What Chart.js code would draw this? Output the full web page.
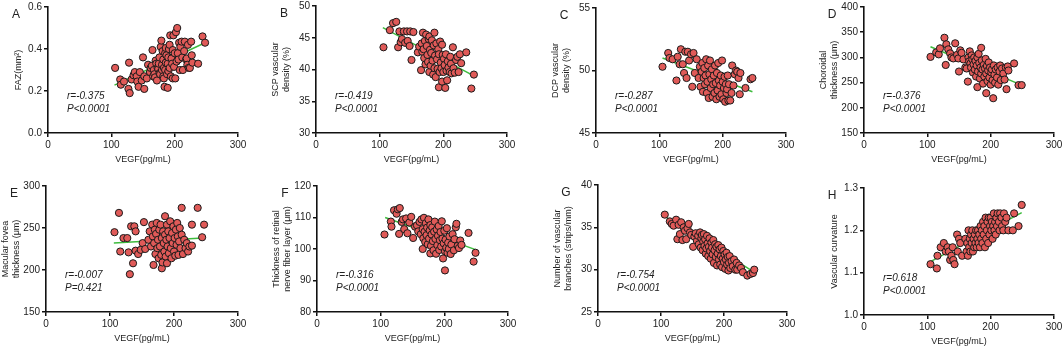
<!DOCTYPE html>
<html>
<head>
<meta charset="utf-8">
<script src="https://cdn.jsdelivr.net/npm/chart.js@4.4.1/dist/chart.umd.min.js"></script>
<style>
  html, body { margin: 0; padding: 0; background: #fff; overflow: hidden; }
  body { width: 1064px; height: 348px; position: relative; }
  canvas { position: absolute; }
</style>
</head>
<body>
<script>
// ---- data: [VEGF (pg/mL), value] ----
const ptsA = [[106,0.31],[114,0.255],[115,0.23],[120,0.245],[127,0.21],[129,0.19],[128,0.335],[132,0.255],[135,0.275],[137,0.29],[140,0.27],[141,0.245],[143,0.22],[145,0.29],[148,0.25],[150,0.36],[152,0.21],[152,0.27],[156,0.26],[158,0.325],[161,0.29],[162,0.31],[164,0.32],[165,0.395],[166,0.27],[167,0.3],[168,0.28],[169,0.265],[170,0.345],[171,0.33],[172,0.25],[173,0.31],[174,0.305],[175,0.33],[176,0.36],[176,0.285],[177,0.28],[178,0.41],[179,0.44],[180,0.325],[180,0.3],[181,0.39],[182,0.35],[182,0.27],[183,0.26],[183,0.31],[184,0.22],[185,0.3],[185,0.38],[186,0.405],[186,0.335],[187,0.37],[188,0.28],[189,0.33],[189,0.215],[190,0.295],[190,0.36],[191,0.4],[192,0.42],[192,0.31],[193,0.465],[194,0.27],[195,0.355],[196,0.33],[197,0.395],[197,0.26],[198,0.465],[199,0.315],[200,0.38],[201,0.26],[202,0.48],[203,0.34],[204,0.5],[205,0.38],[206,0.35],[207,0.43],[208,0.3],[209,0.41],[211,0.435],[212,0.36],[213,0.3],[215,0.39],[216,0.435],[218,0.35],[219,0.355],[220,0.325],[221,0.42],[222,0.31],[224,0.31],[226,0.435],[227,0.37],[228,0.335],[237,0.33],[244,0.46],[248,0.43]];
const ptsB = [[106,43.5],[116,46.2],[121,47.3],[126,47.5],[129,43.5],[131,46],[133,44.3],[135,44.8],[138,46],[140,44.2],[143,46],[144,44.5],[147,43.7],[148,46],[150,41.5],[153,45.9],[160,42.7],[162,43.6],[165,39.9],[166,44.1],[167,42.8],[168,45.8],[169,43.2],[170,41.8],[171,44.5],[172,40.8],[173,45.5],[174,43.7],[175,42.3],[176,41.2],[177,44.8],[178,45.2],[178,39.6],[179,43.1],[180,40.6],[181,42.6],[182,44.6],[183,41.4],[184,39.2],[185,43.8],[186,45.8],[186,40.2],[187,42.2],[188,38.8],[189,44.1],[190,41.6],[191,40.1],[192,43.2],[193,37.2],[193,42.4],[194,39.6],[195,44.4],[196,41.1],[197,40.2],[198,38.1],[198,43.9],[199,42.3],[200,39.6],[201,41.7],[202,40.7],[203,37.1],[204,42.4],[205,39.8],[206,38.3],[207,41.3],[208,40.3],[210,39.6],[211,42],[212,40.9],[213,39.4],[215,43.5],[216,40.2],[218,39.5],[220,41.5],[222,42],[224,39.6],[226,42.4],[228,41],[236,42.7],[244,37],[248,39.2]];
const ptsC = [[105,50.3],[114,51.4],[116,51],[121,50.9],[127,49.2],[129,51.1],[132,50.5],[134,51.7],[137,50.5],[139,49.8],[141,51.5],[143,49.4],[145,51.5],[147,50.8],[150,51.3],[152,48.7],[154,51.4],[156,49.8],[159,50.9],[162,49.4],[164,50.3],[165,48.7],[167,49.9],[168,50.6],[169,48.3],[170,49.4],[171,50.2],[172,48.9],[173,49.6],[174,50.9],[175,48.2],[176,49.1],[177,50.4],[178,47.8],[179,49.7],[180,50.8],[181,48.6],[182,49.3],[183,50.1],[184,47.9],[185,48.9],[186,49.6],[187,48.2],[188,50.4],[189,49],[190,47.7],[191,49.8],[192,48.4],[193,50.6],[194,49.2],[195,47.9],[196,48.8],[197,49.6],[198,48.1],[199,50.8],[200,49.1],[201,47.7],[202,48.6],[203,49.5],[204,47.5],[205,48.9],[206,48.2],[207,48.5],[208,49.6],[209,47.6],[210,48.9],[212,47.6],[214,48.2],[215,50.4],[217,48.8],[219,49.7],[221,50],[223,49.9],[225,49.4],[227,48.1],[228,49.8],[236,48.6],[244,49.3],[247,49.4]];
const ptsD = [[105,301],[114,310],[118,306],[120,318],[127,339],[129,285],[130,326],[133,316],[136,308],[138,300],[141,298],[144,328],[147,305],[149,298],[150,272],[152,314],[154,309],[157,296],[160,280],[162,278],[164,252],[165,300],[166,292],[167,312],[168,288],[169,280],[170,304],[171,296],[172,270],[173,286],[174,300],[175,276],[176,293],[177,262],[178,284],[179,241],[179,300],[180,272],[181,307],[182,289],[183,258],[184,280],[185,319],[185,268],[186,294],[187,276],[188,248],[189,285],[190,262],[191,278],[192,297],[193,229],[193,268],[194,283],[195,253],[196,274],[197,290],[198,260],[199,280],[200,246],[201,270],[202,276],[203,255],[204,219],[205,284],[206,266],[207,250],[208,276],[210,260],[211,280],[212,246],[214,272],[215,284],[216,255],[218,278],[220,268],[222,256],[224,280],[225,237],[227,282],[228,274],[237,288],[244,245],[249,245]];
const ptsE = [[107,245],[114,268],[116,222],[121,238],[127,238],[129,221],[131,195],[133,252],[136,208],[138,252],[140,246],[140,223],[144,219],[148,224],[151,232],[153,257],[155,225],[160,236],[162,246],[164,228],[166,254],[167,240],[168,206],[169,232],[170,248],[171,219],[172,243],[173,256],[174,226],[175,236],[176,214],[177,248],[178,228],[179,254],[180,218],[181,202],[181,238],[182,209],[183,246],[184,232],[185,222],[186,264],[186,242],[187,216],[188,236],[189,208],[189,254],[190,228],[191,246],[192,220],[193,238],[194,258],[195,226],[196,214],[197,244],[198,232],[199,252],[200,222],[201,238],[202,217],[203,248],[204,230],[205,256],[206,240],[207,218],[208,234],[209,250],[210,226],[212,274],[212,242],[214,219],[216,236],[218,226],[220,232],[222,222],[224,228],[228,254],[228,229],[237,274],[244,239],[247,254]];
const ptsF = [[106,104.6],[116,108.7],[117,107.1],[121,112.3],[125,111.2],[127,112.6],[129,104.8],[130,113],[133,108.6],[135,109.4],[137,106.3],[140,109.7],[142,105],[145,108.4],[148,110.2],[151,103.5],[154,107.1],[157,107.5],[159,105.6],[161,108.6],[163,104.7],[164,109.4],[166,100],[166,106.3],[167,103.4],[168,109.9],[169,105.5],[170,102.2],[171,108.2],[172,104.4],[173,106.8],[174,101.5],[175,109.4],[176,103.3],[177,105.9],[178,98.6],[178,107.6],[179,101],[180,104.6],[181,106.9],[182,102.5],[183,99.6],[184,105.5],[185,108.7],[186,103.2],[187,98.5],[188,106.2],[189,101.2],[190,104.2],[191,107.3],[192,99.7],[193,102.8],[194,105.4],[195,100.8],[196,108.8],[197,103.3],[198,97],[199,101.8],[200,105.8],[201,99.3],[201,93.2],[202,103],[203,100.4],[204,106.6],[205,98.8],[206,102],[207,100],[208,104],[210,98.4],[211,101.4],[213,104.7],[215,99.6],[216,103.1],[218,106.9],[219,108],[221,101],[223,100.3],[225,102.7],[227,101.3],[238,105.1],[246,96],[249,98.8]];
const ptsG = [[106,36.5],[114,35.7],[117,35.4],[120,35.2],[124,35.9],[126,33.6],[128,35.3],[130,34.2],[132,35.6],[134,33.5],[136,35],[138,34.6],[140,33.6],[142,34.9],[144,35.4],[146,34.4],[148,34.1],[151,32.7],[153,33.9],[155,34.3],[157,33.4],[159,34],[160,33],[162,34.4],[163,32.6],[164,33.7],[165,34.1],[166,32.3],[167,33.3],[168,34.2],[169,32.8],[170,33.6],[171,31.9],[172,32.5],[173,34],[174,33.1],[175,31.6],[176,32.7],[177,33.7],[178,32.2],[179,31.3],[180,33.2],[181,32.6],[182,31.8],[183,33.5],[184,30.8],[185,32.3],[186,33],[187,31.5],[188,32.7],[189,30.5],[190,31.9],[191,32.9],[192,31.2],[193,32.4],[194,30.6],[195,31.6],[196,32.6],[197,30.3],[198,31.3],[199,32.2],[200,30.9],[201,31.8],[202,30.1],[203,31.2],[204,32],[205,30.6],[206,31.5],[207,29.9],[208,30.8],[209,31.6],[210,30.2],[212,31],[214,30.4],[216,31.2],[218,30],[220,30.8],[221,30],[224,30.5],[227,30.2],[230,29.7],[237,29.3],[242,29.5],[246,29.6],[248,30]];
const ptsH = [[105,1.12],[115,1.11],[116,1.14],[121,1.16],[126,1.17],[129,1.15],[132,1.16],[134,1.15],[136,1.13],[138,1.14],[140,1.16],[141,1.13],[143,1.12],[147,1.19],[148,1.15],[150,1.18],[152,1.17],[155,1.14],[160,1.18],[162,1.15],[163,1.17],[164,1.14],[165,1.2],[166,1.16],[167,1.18],[168,1.15],[169,1.19],[170,1.17],[171,1.2],[172,1.15],[173,1.18],[174,1.16],[175,1.19],[176,1.17],[177,1.2],[178,1.16],[179,1.18],[180,1.2],[181,1.17],[182,1.19],[183,1.16],[184,1.21],[185,1.18],[186,1.2],[187,1.17],[188,1.22],[189,1.19],[190,1.21],[191,1.16],[192,1.23],[193,1.18],[194,1.2],[195,1.22],[196,1.17],[197,1.23],[198,1.19],[199,1.21],[200,1.23],[201,1.2],[202,1.22],[203,1.18],[204,1.21],[205,1.24],[206,1.2],[207,1.22],[208,1.19],[209,1.23],[210,1.21],[211,1.24],[213,1.22],[214,1.2],[215,1.24],[217,1.23],[218,1.21],[220,1.2],[221,1.24],[223,1.22],[225,1.23],[228,1.2],[235,1.2],[237,1.24],[244,1.21],[249,1.26]];

// regression line end points
const fitA = [[105,0.228],[248,0.43]];
const fitB = [[105,46.6],[248,39.0]];
const fitC = [[105,51.0],[247,48.3]];
const fitD = [[105,321],[249,245]];
const fitE = [[106,232],[245,238]];
const fitF = [[107,110],[249,99.8]];
const fitG = [[106,36.3],[246,29.8]];
const fitH = [[105,1.126],[249,1.242]];

const letters = ['A','B','C','D','E','F','G','H'];
const yTitles = [
  ['FAZ(mm²)'],
  ['SCP vascular','density (%)'],
  ['DCP vascular','density (%)'],
  ['Choroidal','thickness (μm)'],
  ['Macular fovea','thickness (μm)'],
  ['Thickness of retinal','nerve fiber layer (μm)'],
  ['Number of vascular','branches (strips/mm)'],
  ['Vascular curvature']
];
const rTexts = ['r=-0.375','r=-0.419','r=-0.287','r=-0.376','r=-0.007','r=-0.316','r=-0.754','r=0.618'];
const pTexts = ['P<0.0001','P<0.0001','P<0.0001','P<0.0001','P=0.421','P<0.0001','P<0.0001','P<0.0001'];
const yMin  = [0, 30, 45, 150, 150, 80, 25, 1.0];
const yMax  = [0.6, 50, 55, 400, 300, 120, 40, 1.3];
const yStep = [0.2, 5, 5, 50, 50, 10, 5, 0.1];
const yDec  = [1, 0, 0, 0, 0, 0, 0, 1];
const xLabel = 'VEGF(pg/mL)';

const allPts = [ptsA, ptsB, ptsC, ptsD, ptsE, ptsF, ptsG, ptsH];
const allFits = [fitA, fitB, fitC, fitD, fitE, fitF, fitG, fitH];

// plot area boxes in the page: [x at 0, x at 300, top, bottom]
const boxes = [
  [48, 238, 7, 133], [316, 507, 6, 133], [596, 786, 8, 133], [864, 1054, 7, 133],
  [46, 238, 186, 312], [317, 508, 186, 312], [598, 787, 185, 312], [864, 1054, 188, 315]
];

const FONT = "'Liberation Sans', Arial, Helvetica, sans-serif";
Chart.defaults.font.family = FONT;
Chart.defaults.color = '#222';

const YW = 60, XH = 34, PT = 8, PR = 12;

const panelText = {
  id: 'panelText',
  afterDraw(chart, args, opts) {
    const { ctx, chartArea } = chart;
    ctx.save();
    ctx.fillStyle = '#222';
    ctx.textBaseline = 'middle';
    ctx.textAlign = 'left';
    ctx.font = 'italic 10px ' + FONT;
    ctx.fillText(opts.r, chartArea.left + 19, chartArea.bottom - 37);
    ctx.fillText(opts.p, chartArea.left + 19, chartArea.bottom - 24);
    ctx.textAlign = 'center';
    ctx.font = '12px ' + FONT;
    ctx.fillText(opts.letter, chartArea.left - 32, chartArea.top + 8);
    ctx.restore();
  }
};

for (let i = 0; i < 8; i++) {
  const [ox, x300, yt, yb] = boxes[i];
  const cv = document.createElement('canvas');
  const w = YW + (x300 - ox) + PR;
  const h = PT + (yb - yt) + XH;
  cv.width = w; cv.height = h;
  cv.style.left = (ox - YW) + 'px';
  cv.style.top = (yt - PT) + 'px';
  cv.style.width = w + 'px';
  cv.style.height = h + 'px';
  document.body.appendChild(cv);

  const nLines = yTitles[i].length;
  const titlePad = YW - 29 - 5.5 - 11 * (nLines - 1);

  new Chart(cv.getContext('2d'), {
    type: 'scatter',
    data: {
      datasets: [{
        data: allPts[i].map(p => ({ x: p[0], y: p[1] })),
        backgroundColor: '#e05a58',
        borderColor: '#1a1a1a',
        borderWidth: 1,
        pointRadius: 3.6,
        clip: false
      }, {
        type: 'line',
        data: allFits[i].map(p => ({ x: p[0], y: p[1] })),
        borderColor: '#3dbb3d',
        borderWidth: 1.5,
        pointRadius: 0,
        fill: false
      }]
    },
    options: {
      responsive: false,
      animation: false,
      devicePixelRatio: 1,
      layout: { padding: { left: 0, top: PT, right: PR, bottom: 0 } },
      plugins: {
        legend: { display: false },
        tooltip: { enabled: false },
        panelText: { r: rTexts[i], p: pTexts[i], letter: letters[i] }
      },
      scales: {
        x: {
          type: 'linear', min: 0, max: 300,
          grid: { drawOnChartArea: false, drawTicks: true, tickLength: 4, color: '#111', lineWidth: 1.5 },
          border: { display: true, color: '#111', width: 1.6 },
          ticks: { stepSize: 100, padding: 2, font: { size: 10 }, color: '#222', maxRotation: 0 },
          title: { display: true, text: xLabel, font: { size: 9 }, padding: { top: 0, bottom: 2 }, color: '#222' },
          afterFit: s => { s.height = XH; }
        },
        y: {
          type: 'linear', min: yMin[i], max: yMax[i],
          grid: { drawOnChartArea: false, drawTicks: true, tickLength: 4, color: '#111', lineWidth: 1.5 },
          border: { display: true, color: '#111', width: 1.6 },
          ticks: {
            stepSize: yStep[i], padding: 2, font: { size: 10 }, color: '#222',
            callback: v => yDec[i] ? v.toFixed(1) : String(Math.round(v))
          },
          title: { display: true, text: yTitles[i], font: { size: 9 }, padding: { top: titlePad, bottom: 0 }, color: '#222' },
          afterFit: s => { s.width = YW; }
        }
      }
    },
    plugins: [panelText]
  });
}
</script>
</body>
</html>
